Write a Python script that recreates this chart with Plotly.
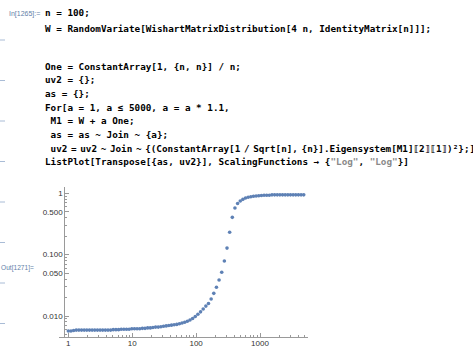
import plotly.graph_objects as go

# ---------------- data ----------------
a_values = [1, 1.1, 1.21, 1.331, 1.4641, 1.6105, 1.7716, 1.9487, 2.1436, 2.3579,
            2.5937, 2.8531, 3.1384, 3.4523, 3.7975, 4.1772, 4.595, 5.0545, 5.5599, 6.1159,
            6.7275, 7.4002, 8.1403, 8.9543, 9.8497, 10.835, 11.918, 13.11, 14.421, 15.863,
            17.449, 19.194, 21.114, 23.225, 25.548, 28.102, 30.913, 34.004, 37.404, 41.145,
            45.259, 49.785, 54.764, 60.24, 66.264, 72.89, 80.18, 88.197, 97.017, 106.72,
            117.39, 129.13, 142.04, 156.25, 171.87, 189.06, 207.97, 228.76, 251.64, 276.8,
            304.48, 334.93, 368.42, 405.27, 445.79, 490.37, 539.41, 593.35, 652.68, 717.95,
            789.75, 868.72, 955.59, 1051.2, 1156.3, 1271.9, 1399.1, 1539.0, 1692.9, 1862.2,
            2048.4, 2253.2, 2478.6, 2726.4, 2999.1, 3299.0, 3628.9, 3991.8, 4390.9, 4830.0]

uv2_values = [0.0057, 0.0057, 0.0058, 0.0059, 0.0059, 0.0059, 0.0059, 0.0059, 0.0059, 0.0059,
              0.0059, 0.0059, 0.0059, 0.0059, 0.0059, 0.0059, 0.0059, 0.0060, 0.0060, 0.0060,
              0.0061, 0.0061, 0.0061, 0.0061, 0.0062, 0.0062, 0.0062, 0.0062, 0.0063, 0.0063,
              0.0064, 0.0064, 0.0065, 0.0066, 0.0066, 0.0067, 0.0068, 0.0069, 0.0070, 0.0071,
              0.0072, 0.0073, 0.0075, 0.0077, 0.0079, 0.0082, 0.0086, 0.0091, 0.0098, 0.0107,
              0.0117, 0.0130, 0.0145, 0.0160, 0.0189, 0.0234, 0.0294, 0.0386, 0.0516, 0.0788,
              0.128, 0.232, 0.406, 0.576, 0.682, 0.748, 0.798, 0.838, 0.865, 0.881,
              0.894, 0.904, 0.914, 0.922, 0.928, 0.928, 0.930, 0.945, 0.945, 0.945,
              0.945, 0.945, 0.945, 0.945, 0.945, 0.945, 0.945, 0.945, 0.945, 0.945]

x_tick_vals = [1, 10, 100, 1000]
x_tick_text = ["1", "10", "100", "1000"]
x_minor_vals = [2, 3, 4, 5, 6, 7, 8, 9, 20, 30, 40, 50, 60, 70, 80, 90,
                200, 300, 400, 500, 600, 700, 800, 900, 2000, 3000, 4000, 5000]
y_tick_vals = [0.01, 0.05, 0.1, 0.5, 1]
y_tick_text = ["0.010", "0.050", "0.100", "0.500", "1"]
y_minor_vals = [0.005, 0.006, 0.007, 0.008, 0.009, 0.02, 0.03, 0.04, 0.06, 0.07, 0.08, 0.09,
                0.2, 0.3, 0.4, 0.6, 0.7, 0.8, 0.9]

SP = "<span style='font-size:6px'> </span>"   # Mathematica-style narrow space
GRAY = "<span style='color:#8a8a8a'>\"Log\"</span>"
code_lines = [
    "n = 100;",
    "W = RandomVariate[WishartMatrixDistribution[4 n, IdentityMatrix[n]]];",
    "One = ConstantArray[1, {n, n}] / n;",
    "uv2 = {};",
    "as = {};",
    "For[a = 1, a ≤ 5000, a = a * 1.1,",
    " M1 = W + a One;",
    " as = as ~ Join ~ {a};",
    " uv2" + SP + "=" + SP + "uv2" + SP + "~" + SP + "Join" + SP + "~" + SP
    + "{(ConstantArray[1" + SP + "/" + SP + "Sqrt[n]," + SP + "{n}].Eigensystem[M1]⟦2⟧⟦1⟧)²};]",
    "ListPlot[Transpose[{as, uv2}], ScalingFunctions → {" + GRAY + ", " + GRAY + "}]",
]
code_y = [13, 28, 66, 79.7, 93.4, 107.1, 120.8, 134.5, 148.2, 161.9]

# ---------------- layout geometry ----------------
W_PX, H_PX = 473, 346
ML, MR, MT, MB = 59, 165, 187, 9
PW = W_PX - ML - MR
PH = H_PX - MT - MB


def px(xp):
    return (xp - ML) / PW


def py(yp):
    return (H_PX - MB - yp) / PH


fig = go.Figure()
fig.add_trace(go.Scatter(
    x=a_values, y=uv2_values, mode="markers",
    marker=dict(color="#5E81B5", size=3.6, line=dict(width=0)),
    hoverinfo="x+y", showlegend=False,
))

annotations = []
for txt, yy in zip(code_lines, code_y):
    annotations.append(dict(
        text="<b>" + txt + "</b>", x=px(43), y=py(yy), xref="paper", yref="paper",
        xanchor="left", yanchor="middle", showarrow=False,
        font=dict(family="DejaVu Sans Mono", size=9.3, color="#000000"),
    ))
annotations.append(dict(
    text="In[1265]:=", x=px(42), y=py(13.5), xref="paper", yref="paper",
    xanchor="right", yanchor="middle", showarrow=False,
    font=dict(family="Liberation Sans", size=7, color="#5f7fa8"),
))
annotations.append(dict(
    text="Out[1271]=", x=px(36), y=py(268), xref="paper", yref="paper",
    xanchor="right", yanchor="middle", showarrow=False,
    font=dict(family="Liberation Sans", size=6.6, color="#5f7fa8"),
))

shapes = []
for yy in [40, 80.5, 121, 161.5, 202, 242.5, 283, 323.5]:
    shapes.append(dict(type="line", xref="paper", yref="paper",
                       x0=px(0), x1=px(5), y0=py(yy), y1=py(yy),
                       line=dict(color="#a9bcd6", width=1)))

axis_color = "#9a9a9a"
fig.update_layout(
    width=W_PX, height=H_PX,
    margin=dict(l=ML, r=MR, t=MT, b=MB, pad=0, autoexpand=False),
    paper_bgcolor="white", plot_bgcolor="white",
    annotations=annotations, shapes=shapes,
    xaxis=dict(
        type="log", range=[-0.146, 3.751], showgrid=False, zeroline=False,
        automargin=False,
        showline=True, linecolor=axis_color, linewidth=1,
        tickmode="array", tickvals=x_tick_vals, ticktext=x_tick_text,
        ticks="inside", ticklen=4, tickcolor=axis_color, tickwidth=1,
        minor=dict(tickmode="array", tickvals=x_minor_vals, ticks="inside",
                   ticklen=2, tickcolor=axis_color, tickwidth=1, showgrid=False),
        tickfont=dict(family="Liberation Sans", size=8, color="#333333"),
        ticklabelstandoff=-2,
        anchor="y", fixedrange=True,
    ),
    yaxis=dict(
        type="log", range=[-2.342, 0.103], showgrid=False, zeroline=False,
        automargin=False,
        showline=True, linecolor=axis_color, linewidth=1,
        anchor="free", position=px(64.3),
        tickmode="array", tickvals=y_tick_vals, ticktext=y_tick_text,
        ticks="inside", ticklen=4, tickcolor=axis_color, tickwidth=1,
        minor=dict(tickmode="array", tickvals=y_minor_vals, ticks="inside",
                   ticklen=2, tickcolor=axis_color, tickwidth=1, showgrid=False),
        tickfont=dict(family="Liberation Sans", size=8, color="#333333"),
        fixedrange=True,
    ),
)

fig.write_html(
    "out.html",
    config={"displayModeBar": False},
    post_script="document.body.style.margin='0';document.body.style.padding='0';",
)
